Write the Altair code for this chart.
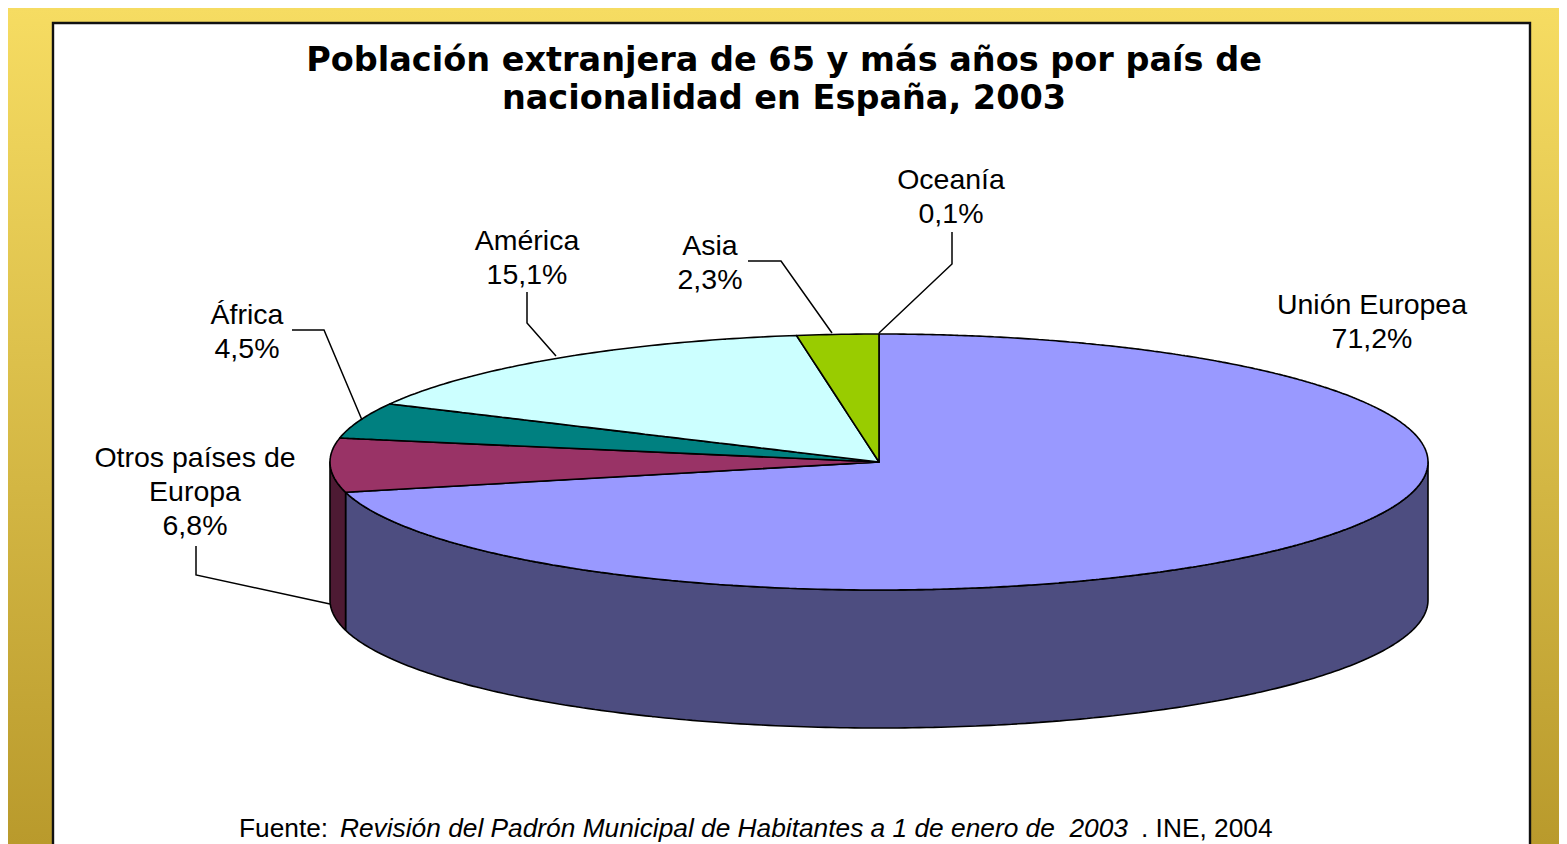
import math
import altair as alt
import pandas as pd

# ---- data ----
CATEGORIES = ["Unión Europea", "Otros países de Europa", "África", "América", "Asia", "Oceanía"]
SHARES = [71.2, 6.8, 4.5, 15.1, 2.3, 0.1]
TOP_COLORS = ["#9999FF", "#993366", "#008080", "#CCFFFF", "#99CC00", "#99CC00"]
WALL_COLORS = ["#4D4D80", "#4D1A33", "#004040", "#668080", "#4D6600", "#4D6600"]
LABEL_LINES = [["Unión Europea", "71,2%"], ["Otros países de", "Europa", "6,8%"], ["África", "4,5%"],
               ["América", "15,1%"], ["Asia", "2,3%"], ["Oceanía", "0,1%"]]
TITLE_LINES = ["Población extranjera de 65 y más años por país de", "nacionalidad en España, 2003"]
SOURCE_PARTS = ["Fuente:", "Revisión del Padrón Municipal de Habitantes a 1 de enero de \u00a02003", ". INE, 2004"]

# ---- layout (picture pixels) ----
W, H = 1551, 836
OX, OY = 8, 8
CX, CY, RX, RY, DEPTH = 879, 462, 549, 128, 138
PANEL = (53, 23, 1530, 860)
LABEL_POS = [(1372, 305), (195, 458), (247, 315), (527, 241), (710, 246), (951, 180)]
LINE_STEP = 34
LEADERS = [
    None,
    [(196, 546), (196, 575), (330, 604)],
    [(292, 330), (324, 330), (362, 420)],
    [(527, 292), (527, 323), (556, 356)],
    [(748, 261), (781, 261), (832, 333)],
    [(952, 232), (952, 264), (879, 333)],
]
TITLE_POS = [(784, 61), (784, 99)]
SOURCE_POS = [(239, 829), (340, 829), (1141, 829)]

xs = alt.Scale(domain=[OX, OX + W], range=[0, W], nice=False, zero=False)
ys = alt.Scale(domain=[OY, OY + H], range=[0, H], nice=False, zero=False)


def pt(t, dy=0.0):
    return CX + RX * math.sin(t), CY - RY * math.cos(t) + dy


def scan(poly):
    """Turn a vertically convex outline into x / y / y2 rows for an area."""
    vx = sorted({round(p[0], 4) for p in poly})
    rows = []
    eps = 1e-3
    for x0 in vx:
        for x in (x0 - eps, x0 + eps):
            hits = []
            n = len(poly)
            for i in range(n):
                (a, b), (c, d) = poly[i], poly[(i + 1) % n]
                if a == c:
                    continue
                if min(a, c) <= x <= max(a, c):
                    hits.append(b + (d - b) * (x - a) / (c - a))
            if len(hits) >= 2:
                rows.append({"x": x, "y": min(hits), "y2": max(hits)})
    return rows


def arc_points(t0, t1, dy=0.0):
    n = max(2, int(abs(t1 - t0) / math.radians(0.75)))
    return [pt(t0 + (t1 - t0) * i / n, dy) for i in range(n + 1)]


def area_layer(rows, color):
    return (
        alt.Chart(pd.DataFrame(rows))
        .mark_area(fill=color, stroke="#000000", strokeWidth=1.6, orient="vertical", strokeJoin="round")
        .encode(
            x=alt.X("x:Q", scale=xs, axis=None),
            y=alt.Y("y:Q", scale=ys, axis=None),
            y2="y2:Q",
        )
    )


# angles from the shares, clockwise from twelve o'clock
edges = [0.0]
for s in SHARES:
    edges.append(edges[-1] + s / sum(SHARES) * 2 * math.pi)

walls, tops = [], []
for i in range(len(SHARES)):
    t0, t1 = edges[i], edges[i + 1]
    if SHARES[i] < 0.5:
        continue  # the Oceanía sliver shows no slice of its own: it merges with its neighbour
    if i + 1 < len(SHARES) and SHARES[i + 1] < 0.5:
        t1 = edges[i + 2]
    a, b = max(t0, math.pi / 2), min(t1, 3 * math.pi / 2)
    if b > a:
        poly = arc_points(a, b) + arc_points(b, a, DEPTH)
        walls.append(area_layer(scan(poly), WALL_COLORS[i]))
    poly = [(CX, CY)] + arc_points(t0, t1)
    rows = scan(poly)
    if rows:
        tops.append(area_layer(rows, TOP_COLORS[i]))

# background
gradient = alt.Gradient(
    gradient="linear", x1=0, x2=0, y1=0, y2=1,
    stops=[alt.GradientStop(color="#F6DC62", offset=0), alt.GradientStop(color="#B99A2C", offset=1)],
)
one = pd.DataFrame({"a": [0]})
bg = alt.Chart(one).mark_rect(color=gradient).encode(
    x=alt.value(0), x2=alt.value(W), y=alt.value(0), y2=alt.value(H)
)
panel = alt.Chart(pd.DataFrame([dict(x=PANEL[0], x2=PANEL[2], y=PANEL[1], y2=PANEL[3])])).mark_rect(
    fill="#FFFFFF", stroke="#111111", strokeWidth=2.4
).encode(
    x=alt.X("x:Q", scale=xs, axis=None), x2="x2:Q",
    y=alt.Y("y:Q", scale=ys, axis=None), y2="y2:Q",
)

# leader lines
rows = []
for i, pts in enumerate(LEADERS):
    if pts:
        for j, (x, y) in enumerate(pts):
            rows.append({"c": CATEGORIES[i], "o": j, "x": x, "y": y})
leaders = alt.Chart(pd.DataFrame(rows)).mark_line(color="#000000", strokeWidth=1.5).encode(
    x=alt.X("x:Q", scale=xs, axis=None),
    y=alt.Y("y:Q", scale=ys, axis=None),
    detail="c:N",
    order="o:Q",
)


def text_layer(rows, **kw):
    return alt.Chart(pd.DataFrame(rows)).mark_text(**kw).encode(
        x=alt.X("x:Q", scale=xs, axis=None),
        y=alt.Y("y:Q", scale=ys, axis=None),
        text="t:N",
    )


label_rows = []
for lines, (x, y) in zip(LABEL_LINES, LABEL_POS):
    for k, line in enumerate(lines):
        label_rows.append({"x": x, "y": y + k * LINE_STEP, "t": line})
labels = text_layer(label_rows, font="Liberation Sans", fontSize=28.5, color="#000000", align="center", baseline="middle")

title = text_layer(
    [{"x": p[0], "y": p[1], "t": t} for p, t in zip(TITLE_POS, TITLE_LINES)],
    font="DejaVu Sans", fontWeight="bold", fontSize=33.5, color="#000000", align="center", baseline="middle",
)

src = [
    text_layer([{"x": SOURCE_POS[i][0], "y": SOURCE_POS[i][1], "t": SOURCE_PARTS[i]}],
               font="Liberation Sans", fontSize=26.3, color="#000000", align="left", baseline="middle",
               fontStyle="italic" if i == 1 else "normal")
    for i in range(3)
]

chart = alt.layer(bg, panel, *walls, *tops, leaders, labels, title, *src).properties(
    width=W, height=H, padding=0, autosize=alt.AutoSizeParams(type="none")
).configure_view(stroke=None).resolve_scale(x="shared", y="shared")

chart.save("out.html", embed_options={"renderer": "svg", "actions": False})
